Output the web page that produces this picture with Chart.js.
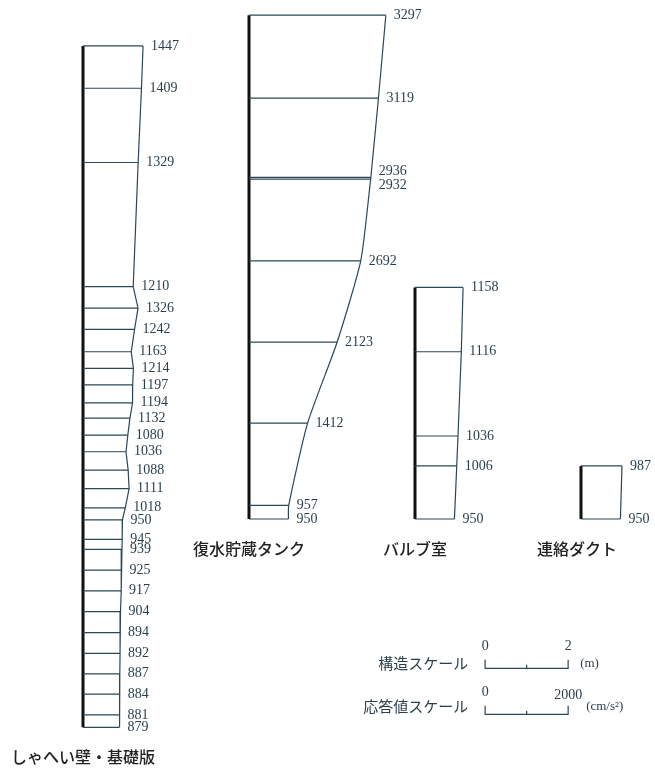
<!DOCTYPE html>
<html>
<head>
<meta charset="utf-8">
<script src="https://cdn.jsdelivr.net/npm/chart.js@4.4.1/dist/chart.umd.min.js"></script>
<style>
  html, body { margin: 0; padding: 0; background: #fff; }
  canvas { display: block; }
</style>
</head>
<body>
<canvas id="chart" width="655" height="768"></canvas>
<script>
// 応答加速度 (cm/s2) と 高さ (m)
var wallLevels = [11.40, 10.38, 8.59, 5.60, 5.08, 4.57, 4.03, 3.63, 3.23, 2.80, 2.43, 2.02, 1.62, 1.18, 0.73, 0.27,
                  -0.02, -0.49, -0.73, -1.23, -1.73, -2.23, -2.74, -3.24, -3.73, -4.22, -4.72, -5.02];
var wallAcc = [1447, 1409, 1329, 1210, 1326, 1242, 1163, 1214, 1197, 1194, 1132, 1080, 1036, 1088, 1111, 1018,
               950, 945, 939, 925, 917, 904, 894, 892, 887, 884, 881, 879];

var tankLevels = [12.14, 10.14, 8.23, 8.19, 6.22, 4.26, 2.31, 0.33, 0];
var tankAcc = [3297, 3119, 2936, 2932, 2692, 2123, 1412, 957, 950];

var valveLevels = [5.58, 4.03, 2.00, 1.28, 0];
var valveAcc = [1158, 1116, 1036, 1006, 950];

var ductLevels = [1.28, 0];
var ductAcc = [987, 950];

var names = ['しゃへい壁・基礎版', '復水貯蔵タンク', 'バルブ室', '連絡ダクト'];

// 配置
var offsets = [2000, 6000, 10000, 14000];
var tankLabelShift = [0, 0, -6, 6, 0, 0, 0, 0, 0];
var lineColor = '#2c4757';
var textColor = '#2a3f4c';

function buildStructure(off, levels, acc, tension) {
    var rungs = [];
    var profile = [];
    for (var i = 0; i < levels.length; i++) {
        rungs.push({x: off, y: levels[i]});
        rungs.push({x: off + acc[i], y: levels[i]});
        rungs.push({x: off, y: null});
        profile.push({x: off + acc[i], y: levels[i]});
    }
    var spine = [{x: off, y: levels[0]}, {x: off, y: levels[levels.length - 1]}];
    return [
        {data: rungs, borderColor: lineColor, borderWidth: 1.2, spanGaps: false},
        {data: profile, borderColor: lineColor, borderWidth: 1.2, tension: tension || 0},
        {data: spine, borderColor: '#111', borderWidth: 3}
    ];
}

// スケールバー
var barStart = 11690;
var barLen = 2000;
var scaleRows = [-3.60, -4.71];

function buildScaleBar(y) {
    return {
        data: [
            {x: barStart, y: y + 0.21}, {x: barStart, y: y}, {x: barStart + barLen, y: y}, {x: barStart + barLen, y: y + 0.21},
            {x: barStart, y: null},
            {x: barStart + barLen / 2, y: y}, {x: barStart + barLen / 2, y: y + 0.09}
        ],
        borderColor: lineColor, borderWidth: 1.2, spanGaps: false
    };
}

var datasets = []
    .concat(buildStructure(offsets[0], wallLevels, wallAcc))
    .concat(buildStructure(offsets[1], tankLevels, tankAcc, 0.2))
    .concat(buildStructure(offsets[2], valveLevels, valveAcc))
    .concat(buildStructure(offsets[3], ductLevels, ductAcc));
datasets.push(buildScaleBar(scaleRows[0]));
datasets.push(buildScaleBar(scaleRows[1]));
datasets.forEach(function(d) { d.showLine = true; d.pointRadius = 0; d.fill = false; });

var labelPlugin = {
    id: 'labels',
    afterDatasetsDraw: function(chart) {
        var ctx = chart.ctx;
        var xs = chart.scales.x, ys = chart.scales.y;
        var groups = [
            [offsets[0], wallLevels, wallAcc, null],
            [offsets[1], tankLevels, tankAcc, tankLabelShift],
            [offsets[2], valveLevels, valveAcc, null],
            [offsets[3], ductLevels, ductAcc, null]
        ];
        ctx.save();
        ctx.fillStyle = textColor;
        ctx.font = '14px "Liberation Serif", "DejaVu Serif", serif';
        ctx.textAlign = 'left';
        ctx.textBaseline = 'middle';
        groups.forEach(function(g) {
            for (var i = 0; i < g[1].length; i++) {
                var px = xs.getPixelForValue(g[0] + g[2][i]) + 8;
                var py = ys.getPixelForValue(g[1][i]) + (g[3] ? g[3][i] : 0);
                ctx.fillText(String(g[2][i]), px, py);
            }
        });

        // 構造名
        ctx.fillStyle = '#222';
        ctx.font = '500 16px "Noto Sans CJK JP", sans-serif';
        ctx.textBaseline = 'middle';
        ctx.fillText(names[0], 11, 757);
        ctx.fillText(names[1], 193, 549);
        ctx.fillText(names[2], 383, 549);
        ctx.fillText(names[3], 537, 549);

        // スケール
        var x0 = xs.getPixelForValue(barStart);
        var x1 = xs.getPixelForValue(barStart + barLen);
        var y0 = ys.getPixelForValue(scaleRows[0]);
        var y1 = ys.getPixelForValue(scaleRows[1]);
        ctx.fillStyle = textColor;
        ctx.font = '15px "Noto Sans CJK JP", sans-serif';
        ctx.textAlign = 'right';
        ctx.fillText('構造スケール', x0 - 17, y0 - 5);
        ctx.fillText('応答値スケール', x0 - 17, y1 - 8);
        ctx.font = '14px "Liberation Serif", "DejaVu Serif", serif';
        ctx.textAlign = 'center';
        ctx.fillText('0', x0, y0 - 22);
        ctx.fillText('2', x1, y0 - 22);
        ctx.fillText('0', x0, y1 - 22);
        ctx.textAlign = 'right';
        ctx.fillText('2000', x1 + 14, y1 - 19);
        ctx.textAlign = 'left';
        ctx.font = '13px "Liberation Serif", "DejaVu Serif", serif';
        ctx.fillText('(m)', x1 + 12, y0 - 5);
        ctx.fillText('(cm/s²)', x1 + 18, y1 - 8);
        ctx.restore();
    }
};

var chart = new Chart(document.getElementById('chart'), {
    type: 'scatter',
    data: {datasets: datasets},
    options: {
        responsive: false,
        animation: false,
        layout: {padding: 0},
        plugins: {legend: {display: false}, tooltip: {enabled: false}},
        scales: {
            x: {type: 'linear', display: false, min: 0, max: 655 / 0.0415},
            y: {type: 'linear', display: false, min: -249 / 41.5, max: 519 / 41.5}
        }
    },
    plugins: [labelPlugin]
});
</script>
</body>
</html>
